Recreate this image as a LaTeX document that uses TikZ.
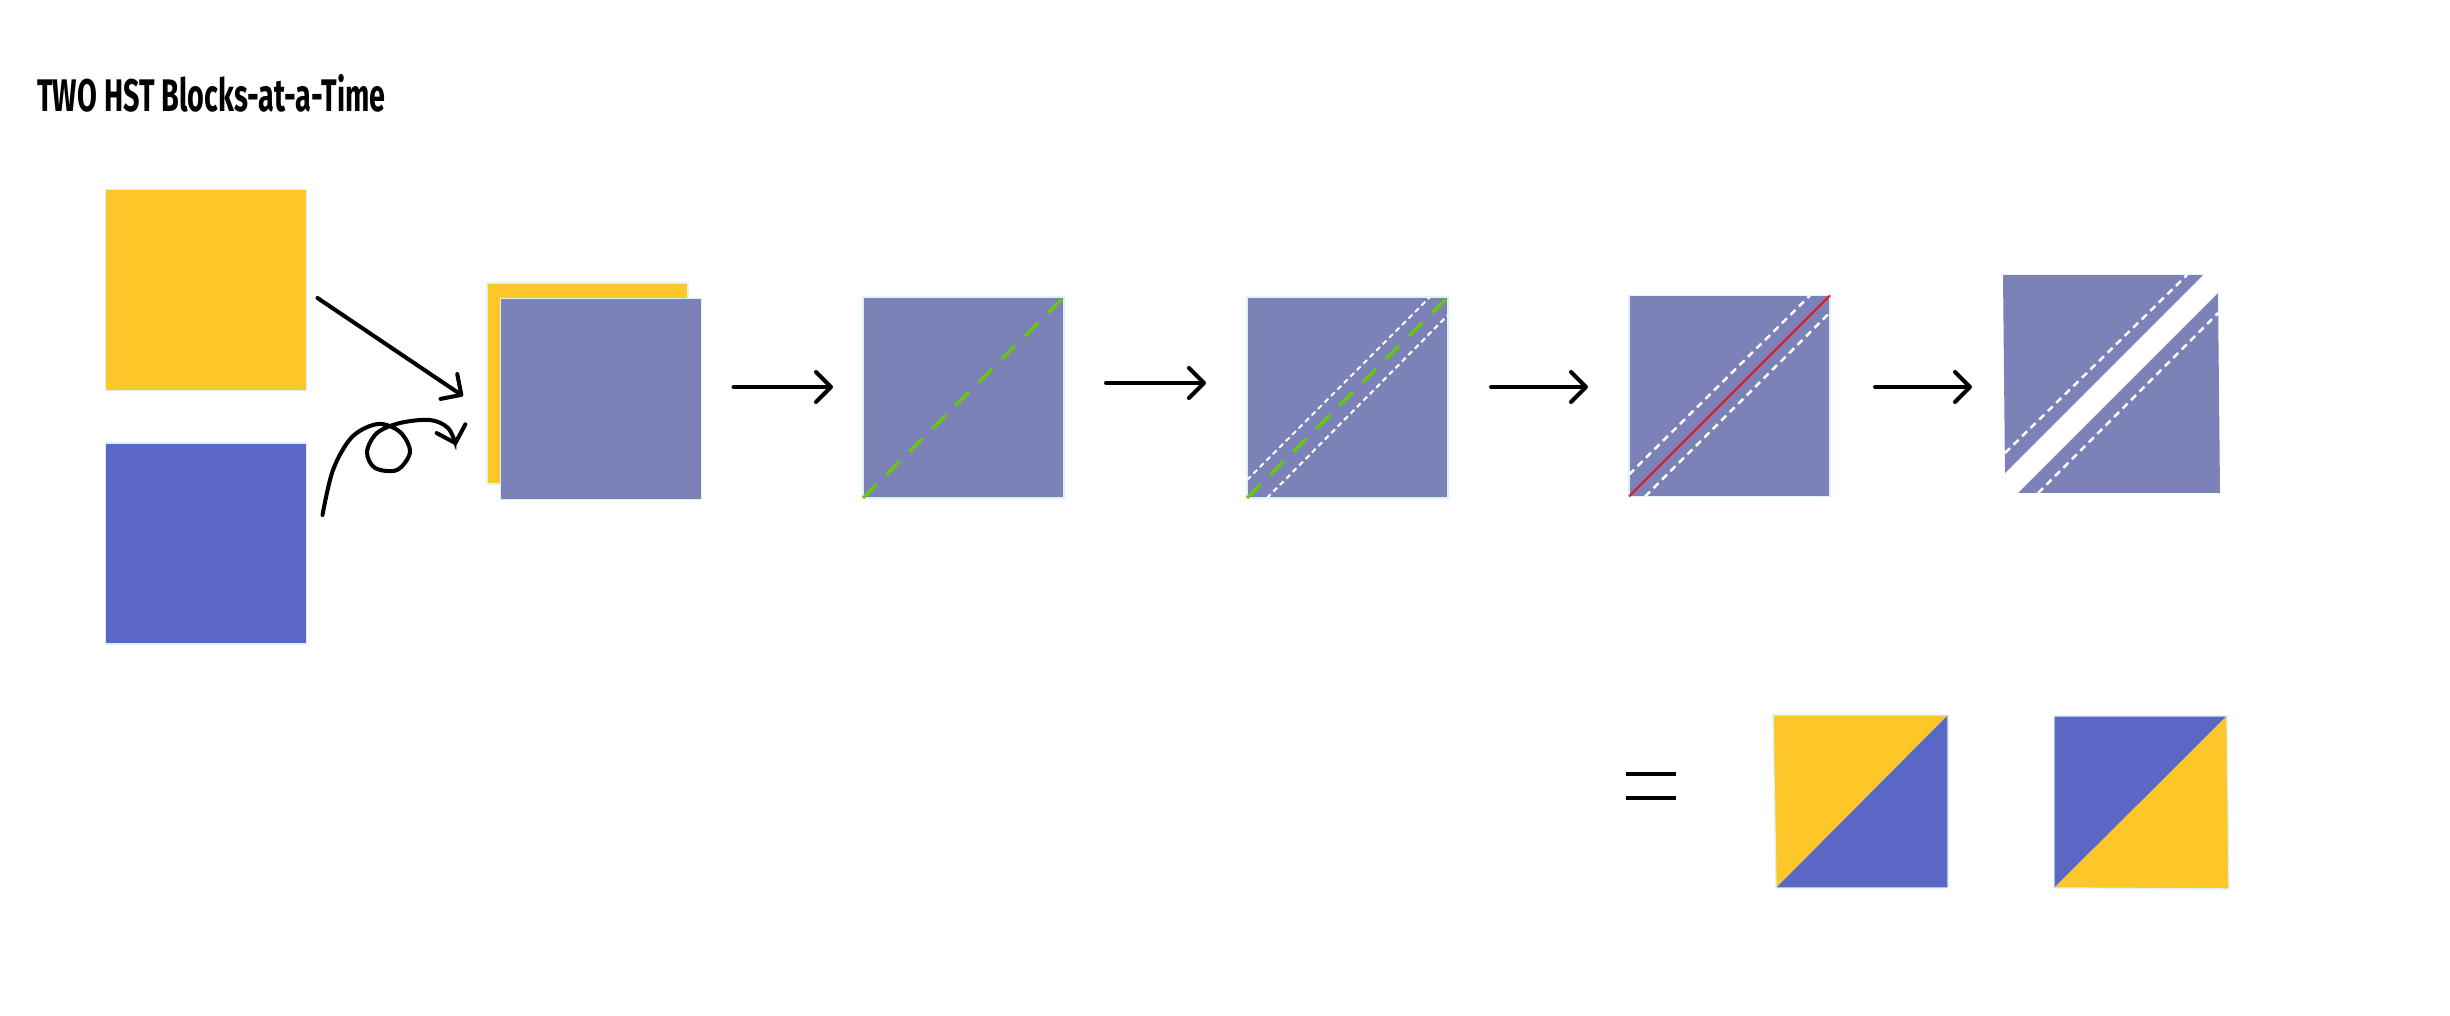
\documentclass[tikz,border=0pt]{standalone}
\usepackage{fontspec}
\setmainfont{Fira Sans}
\usetikzlibrary{arrows.meta}

\definecolor{hstyellow}{HTML}{FDC72A}
\definecolor{hstblue}{HTML}{5B67C5}
\definecolor{hstgray}{HTML}{7C82B8}
\definecolor{seamgreen}{HTML}{66CC00}
\definecolor{cutred}{HTML}{E8141C}
\definecolor{edgecyan}{HTML}{DDF2F2}

\begin{document}
\begin{tikzpicture}[
  block/.style={rectangle,inner sep=0pt,outer sep=0pt,minimum width=2.01cm,minimum height=2.01cm,draw=edgecyan,line width=0.4pt},
  flow/.style={line width=1.15pt,line cap=round,-{Straight Barb[length=1.5mm,width=3mm,round]}},
  seam/.style={seamgreen,line width=0.9pt,dash pattern=on 5.5pt off 3.8pt},
  pressline/.style={white,line width=0.6pt,dash pattern=on 1.5pt off 1.1pt},
  cutline/.style={cutred,line width=0.6pt}
]
\useasboundingbox (0,0) rectangle (24.5,10.16);

%Title
\node (title) at (0.37,9.04) [anchor=base west,inner sep=0pt,xscale=0.63,transform shape,font=\bfseries\fontsize{13}{15}\selectfont] {TWO HST Blocks-at-a-Time};

%Start blocks
\node (yel) at (2.06,7.26)  [block,fill=hstyellow] {};
\node (blu) at (2.06,4.725) [block,fill=hstblue] {};

%Stacked
\node (stkb) at (5.875,6.325) [block,fill=hstyellow] {};
\node (stk)  at (6.01,6.17)   [block,fill=hstgray] {};

\draw[flow] ([shift={(0.11,-0.08)}]yel.east) -- ([shift={(-0.24,-0.125)}]stkb.west);
\draw[flow] plot[smooth,tension=0.55] coordinates {([shift={(0.16,0.285)}]blu.east) (3.33,5.46) (3.52,5.79) (3.78,5.92) (4.00,5.84) (4.10,5.64) (3.97,5.46) (3.75,5.48) (3.67,5.64) (3.77,5.83) (4.00,5.93) (4.30,5.96) (4.48,5.88) (4.56,5.71)};

%Seam
\node (sq2) at (9.635,6.185) [block,fill=hstgray] {};
\draw[seam] (sq2.south west) -- (sq2.north east);

%Mark
\node (sq3) at (13.475,6.185) [block,fill=hstgray] {};
\draw[pressline] ([yshift=0.18cm]sq3.south west) -- ([xshift=-0.18cm]sq3.north east);
\draw[pressline] ([xshift=0.20cm]sq3.south west) -- ([yshift=-0.18cm]sq3.north east);
\draw[seam] (sq3.south west) -- (sq3.north east);

%Cut
\node (sq4) at (17.295,6.20) [block,fill=hstgray] {};
\draw[pressline,dash pattern=on 2pt off 1.4pt,line width=0.7pt] ([yshift=0.22cm]sq4.south west) -- ([xshift=-0.20cm]sq4.north east);
\draw[pressline,dash pattern=on 2pt off 1.4pt,line width=0.7pt] ([xshift=0.16cm]sq4.south west) -- ([yshift=-0.17cm]sq4.north east);
\draw[cutline] (sq4.south west) -- (sq4.north east);

%Split
\coordinate (spl) at (20.03,6.29);
\fill[hstgray] (20.03,7.41) -- (22.03,7.41) -- (20.05,5.43) -- cycle;
\fill[hstgray] (22.18,7.23) -- (22.20,5.23) -- (20.18,5.23) -- cycle;
\draw[pressline,dash pattern=on 2pt off 1.4pt,line width=0.7pt] (20.05,5.63) -- (21.87,7.41);
\draw[pressline,dash pattern=on 2pt off 1.4pt,line width=0.7pt] (20.38,5.23) -- (22.18,7.03);

\draw[flow] ([shift={(0.32,0.12)}]stk.east) -- ([shift={(-0.30,0.105)}]sq2.west);
\draw[flow] ([shift={(0.42,0.145)}]sq2.east) -- ([shift={(-0.41,0.145)}]sq3.west);
\draw[flow] ([shift={(0.43,0.105)}]sq3.east) -- ([shift={(-0.41,0.09)}]sq4.west);
\draw[flow] ([shift={(0.45,0.09)}]sq4.east) -- ([xshift=-0.31cm]spl);

%Result
\coordinate (eq) at (16.51,2.30);
\draw[line width=1.15pt] ([shift={(-0.25,0.12)}]eq) -- ([shift={(0.25,0.12)}]eq);
\draw[line width=1.15pt] ([shift={(-0.25,-0.12)}]eq) -- ([shift={(0.25,-0.12)}]eq);

\fill[hstyellow] (17.73,3.01) -- (19.48,3.01) -- (17.76,1.28) -- cycle;
\fill[hstblue]   (19.48,3.01) -- (19.48,1.28) -- (17.76,1.28) -- cycle;
\draw[edgecyan,line width=0.4pt] (17.73,3.01) -- (19.48,3.01) -- (19.48,1.28) -- (17.76,1.28) -- cycle;

\fill[hstblue]   (20.54,3.00) -- (22.27,3.00) -- (20.54,1.28) -- cycle;
\fill[hstyellow] (22.27,3.00) -- (22.29,1.27) -- (20.54,1.28) -- cycle;
\draw[edgecyan,line width=0.4pt] (20.54,3.00) -- (22.27,3.00) -- (22.29,1.27) -- (20.54,1.28) -- cycle;

\end{tikzpicture}
\end{document}
